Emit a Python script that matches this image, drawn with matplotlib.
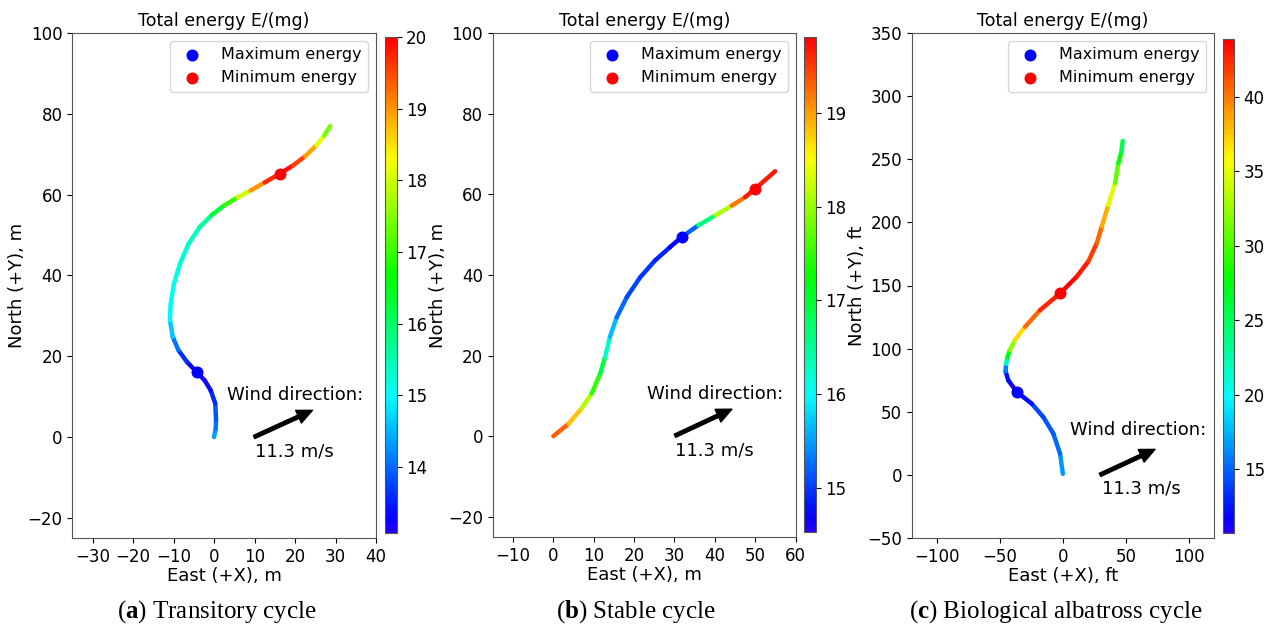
import numpy as np
import matplotlib.pyplot as plt
from matplotlib.collections import LineCollection
from matplotlib.colors import ListedColormap, Normalize
from matplotlib.cm import ScalarMappable

plt.rcParams['mathtext.fontset'] = 'custom'
plt.rcParams['mathtext.rm'] = 'Liberation Serif'
plt.rcParams['mathtext.bf'] = 'Liberation Serif:bold'

# (a) Transitory cycle, m
xa = [0.0, 0.4, 0.5, 0.3, -0.8, -2.3, -4.3, -6.7, -8.8, -10.2, -10.9, -10.7, -9.9, -8.4,
      -6.3, -3.5, -0.5, 2.5, 5.8, 9.0, 12.5, 16.3, 19.5, 22.5, 25.3, 27.2, 28.7]
ya = [0.0, 2.0, 4.2, 8.3, 11.5, 14.0, 16.1, 18.6, 21.5, 24.8, 28.9, 33.0, 38.0, 42.9,
      47.8, 52.0, 55.0, 57.3, 59.3, 61.0, 63.0, 65.2, 67.2, 69.5, 72.2, 74.6, 77.0]
ea = [14.5, 14.2, 14.0, 13.7, 13.45, 13.25, 13.08, 13.4, 13.8, 14.4, 14.8, 15.05, 15.1, 15.2,
      15.25, 15.4, 15.9, 16.6, 17.4, 18.6, 19.4, 20.0, 19.8, 19.3, 18.5, 17.8, 17.1]

# (b) Stable cycle, m
xb = [0.0, 3.8, 7.0, 9.5, 11.6, 12.8, 14.0, 15.7, 18.2, 21.5, 25.2, 28.9, 31.9,
      35.9, 40.0, 44.2, 47.5, 49.9, 54.9]
yb = [0.0, 3.1, 6.9, 10.6, 15.5, 19.6, 24.6, 29.5, 34.5, 39.4, 43.6, 46.9, 49.5,
      52.3, 54.7, 57.2, 59.3, 61.3, 65.7]
eb = [19.5, 19.1, 18.55, 17.7, 17.3, 16.65, 15.9, 15.4, 15.1, 15.0, 14.95, 14.85, 14.53,
      15.9, 17.3, 18.9, 19.5, 19.81, 19.5]

# (c) Biological albatross cycle, ft
xc = [0.0, -2.2, -7.5, -15.5, -24.7, -36.6, -43.3, -45.5, -45.0, -44.0, -42.0, -38.0,
      -30.0, -18.1, -2.2, 11.0, 20.2, 26.9, 30.9, 36.1, 41.4, 44.1, 46.5, 47.5]
yc = [0.8, 16.7, 32.6, 45.8, 56.4, 65.7, 74.9, 82.0, 88.0, 93.0, 99.0, 107.0,
      117.3, 130.5, 143.8, 157.0, 169.0, 183.5, 196.7, 213.9, 231.1, 247.0, 256.0, 264.5]
ec = [17.6, 15.6, 14.7, 14.3, 13.6, 10.7, 11.6, 13.0, 19.0, 25.0, 30.0, 34.5,
      39.3, 41.5, 43.9, 43.5, 42.6, 41.3, 40.0, 36.7, 32.7, 28.8, 26.5, 24.5]

captions = [r'($\mathbf{a}$) Transitory cycle', r'($\mathbf{b}$) Stable cycle',
            r'($\mathbf{c}$) Biological albatross cycle']
units = ['m', 'm', 'ft']

cmap = ListedColormap(plt.cm.hsv(np.linspace(0.7, 0.0, 256)))

W, H = 1267, 630
def box(l, t, r, b):
    return [l / W, 1 - b / H, (r - l) / W, (b - t) / H]

fig = plt.figure(figsize=(W / 100, H / 100), dpi=100)

panels = [
    dict(x=xa, y=ya, e=ea, ax=(72.3, 33, 376, 538), cax=(385, 37, 396.5, 533),
         xlim=(-35, 40), ylim=(-25, 100), xt=range(-30, 41, 10), yt=range(-20, 101, 20),
         tail=(9.9, 0.0), head=(24.3, 6.6), t1=(3.1, 10.5), t2=(10.1, -3.6), cx=217),
    dict(x=xb, y=yb, e=eb, ax=(492.7, 33, 795.7, 537), cax=(804, 37, 815.7, 532),
         xlim=(-15, 60), ylim=(-25, 100), xt=range(-10, 61, 10), yt=range(-20, 101, 20),
         tail=(30.1, 0.1), head=(44.2, 6.7), t1=(23.1, 10.4), t2=(30.1, -3.6), cx=636),
    dict(x=xc, y=yc, e=ec, ax=(911.7, 33, 1214, 538), cax=(1222.7, 39, 1234, 533),
         xlim=(-120, 120), ylim=(-50, 350), xt=range(-100, 101, 50), yt=range(-50, 351, 50),
         tail=(29.5, 0.0), head=(73.2, 20.2), t1=(5.7, 35.3), t2=(30.9, -10.7), cx=1056),
]

for i, p in enumerate(panels):
    ax = fig.add_axes(box(*p['ax']))
    cax = fig.add_axes(box(*p['cax']))
    x = np.array(p['x'])
    y = np.array(p['y'])
    e = np.array(p['e'])
    norm = Normalize(e.min(), e.max())

    pts = np.column_stack([x, y]).reshape(-1, 1, 2)
    segs = np.concatenate([pts[:-1], pts[1:]], axis=1)
    lc = LineCollection(segs, cmap=cmap, norm=norm, linewidth=3.2, capstyle='round')
    lc.set_array((e[:-1] + e[1:]) / 2)
    ax.add_collection(lc)

    imax = np.argmin(e)
    imin = np.argmax(e)
    ax.scatter(x[imax], y[imax], s=58, color='blue', zorder=3, label='Maximum energy')
    ax.scatter(x[imin], y[imin], s=58, color='red', zorder=3, label='Minimum energy')

    ax.set_xlim(*p['xlim'])
    ax.set_ylim(*p['ylim'])
    ax.set_xticks(list(p['xt']))
    ax.set_yticks(list(p['yt']))
    ax.tick_params(labelsize=12)
    for s in ax.spines.values():
        s.set_color('#555555')
    ax.set_xlabel(f'East (+X), {units[i]}', fontsize=13, labelpad=1)
    ax.set_ylabel(f'North (+Y), {units[i]}', fontsize=13, labelpad=1)
    ax.set_title('Total energy E/(mg)', fontsize=12.5, pad=5)
    ax.legend(loc='upper right', fontsize=11.5, scatterpoints=1)

    ax.annotate('', xy=p['head'], xytext=p['tail'],
                arrowprops=dict(facecolor='black', edgecolor='black', width=2.5,
                                headwidth=10, headlength=11, shrink=0))
    ax.text(*p['t1'], 'Wind direction:', fontsize=13, ha='left', va='center')
    ax.text(*p['t2'], '11.3 m/s', fontsize=13, ha='left', va='center')

    cb = fig.colorbar(ScalarMappable(norm=norm, cmap=cmap), cax=cax)
    cb.ax.tick_params(labelsize=12)
    cb.outline.set_edgecolor('#555555')

    fig.text(p['cx'] / W, 1 - 612 / H, captions[i], fontsize=18,
             family='Liberation Serif', ha='center', va='center')

fig.savefig('out.png', dpi=100)
